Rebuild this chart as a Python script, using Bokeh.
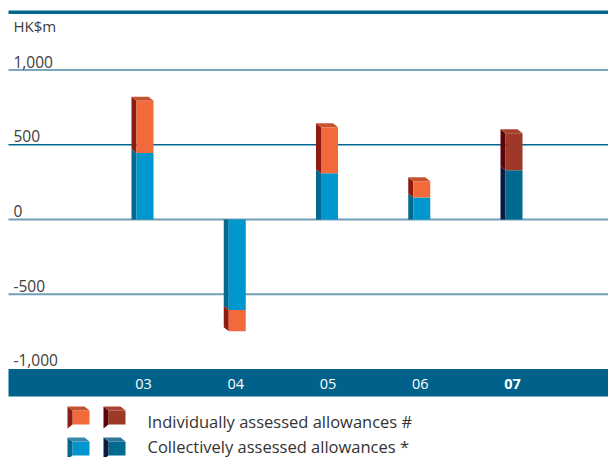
from bokeh.plotting import figure
from bokeh.models import Range1d, ColumnDataSource
from bokeh.core.properties import value
from bokeh.embed import file_html
from bokeh.resources import INLINE

# Loan impairment allowances charged, HK$m
years = ["03", "04", "05", "06", "07"]
collective = [445, -605, 310, 147, 330]
individual = [350, -143, 308, 109, 248]

tick_values = [1000, 500, 0, -500, -1000]
tick_labels = ["1,000", "500", "0", "-500", "-1,000"]

legend_labels = ["Individually assessed allowances #", "Collectively assessed allowances *"]

W, H = 608, 457
FONT = "Open Sans"

# screen geometry of the value scale
PX_PER_UNIT = 0.1494     # pixels per HK$m
ZERO_PX = 219            # pixel row of zero
FIRST_PX = 144.5         # pixel column of first bar
STEP_PX = 92.25          # pixels between bars


def dx(px):
    return px / STEP_PX


def dy(px):
    return px / PX_PER_UNIT


def xpos(px):
    return (px - FIRST_PX) / STEP_PX


def ypos(px):
    return (ZERO_PX - px) / PX_PER_UNIT


p = figure(width=W, height=H, output_backend="svg", toolbar_location=None,
           x_range=Range1d(xpos(0), xpos(W)), y_range=Range1d(ypos(H), ypos(0)),
           min_border=0)
p.xaxis.visible = False
p.yaxis.visible = False
p.grid.visible = False
p.outline_line_color = None
p.background_fill_color = "white"
p.border_fill_color = "white"

# top rule
p.quad(left=[xpos(8)], right=[xpos(W)], top=[ypos(10)], bottom=[ypos(13.5)],
       fill_color="#00648c", line_color=None)

# gridlines
grid_colors = ["#7aa6bf", "#00668f", "#6e9fb6", "#6e9fb6"]
grid_widths = [2, 1.5, 2, 2]
for v, c, lw in zip(tick_values[:-1], grid_colors, grid_widths):
    p.segment(x0=[xpos(8)], x1=[xpos(W)], y0=[v], y1=[v], line_color=c, line_width=lw)

# category band along the bottom
p.quad(left=[xpos(8)], right=[xpos(W)], top=[tick_values[-1]], bottom=[ypos(396)],
       fill_color="#00628a", line_color=None)

# value labels
p.text(x=[xpos(13)] * len(tick_values), y=[v + dy(2.5) for v in tick_values],
       text=tick_labels, text_font=value(FONT), text_font_size="15.5px",
       text_color="#3c3c3c", text_baseline="bottom", text_align="left")
p.text(x=[xpos(13)], y=[ypos(25)], text=["HK$m"], text_font=value(FONT),
       text_font_size="15px", text_color="#3c3c3c", text_baseline="middle",
       text_align="left")

# bar styling: (front, side, top) for ordinary years and the latest year
ind_style = ("#f26a3b", "#8e1a10", "#c4532f")
ind_style_last = ("#9e3827", "#5c0508", "#a8432f")
col_style = ("#0096ce", "#03688e", "#3a88a8")
col_style_last = ("#006a8f", "#0b1a42", "#2f7595")

FRONT_W = dx(17)
SIDE_W = dx(5)
LIFT = dy(4)

fronts = dict(left=[], right=[], top=[], bottom=[], color=[])
sides = dict(xs=[], ys=[], color=[])
tops = dict(xs=[], ys=[], color=[])


def add_box(xc, y0, y1, style, base_flat, cap):
    """Front face between y0 (inner end) and y1 (outer end), side face to the left."""
    x0 = xc - FRONT_W / 2
    x1 = xc + FRONT_W / 2
    fronts["left"].append(x0)
    fronts["right"].append(x1)
    fronts["top"].append(max(y0, y1))
    fronts["bottom"].append(min(y0, y1))
    fronts["color"].append(style[0])
    inner_lift = 0 if base_flat else LIFT
    sides["xs"].append([x0, x0, x0 - SIDE_W, x0 - SIDE_W])
    sides["ys"].append([y0, y1, y1 + LIFT, y0 + inner_lift])
    sides["color"].append(style[1])
    if cap:
        tops["xs"].append([x0, x1, x1 - SIDE_W, x0 - SIDE_W])
        tops["ys"].append([y1, y1, y1 + LIFT, y1 + LIFT])
        tops["color"].append(style[2])


last = len(years) - 1
for i, (c, v) in enumerate(zip(collective, individual)):
    cs = col_style_last if i == last else col_style
    ins = ind_style_last if i == last else ind_style
    add_box(i, 0, c, cs, True, False)
    add_box(i, c, c + v, ins, False, (c + v) > 0)

p.patches(xs="xs", ys="ys", fill_color="color", line_color=None,
          source=ColumnDataSource(sides))
p.patches(xs="xs", ys="ys", fill_color="color", line_color=None,
          source=ColumnDataSource(tops))
p.quad(left="left", right="right", top="top", bottom="bottom", fill_color="color",
       line_color=None, source=ColumnDataSource(fronts))

# category labels
xs_lab = [i - dx(1.5) for i in range(len(years))]
p.text(x=xs_lab[:-1], y=[ypos(383)] * (len(years) - 1), text=years[:-1],
       text_font=value(FONT), text_font_size="14.5px", text_color="white",
       text_align="center", text_baseline="middle")
p.text(x=xs_lab[-1:], y=[ypos(383)], text=years[-1:], text_font=value(FONT),
       text_font_size="14.5px", text_font_style="bold", text_color="white",
       text_align="center", text_baseline="middle")

# legend: cube swatches
leg = dict(xs=[], ys=[], color=[])
rows = [(406, ind_style, ind_style_last), (437, col_style, col_style_last)]
for top_px, s1, s2 in rows:
    for side_left, st in ((67, s1), (103, s2)):
        xl = xpos(side_left)
        xf = xpos(side_left + 5)
        xr = xpos(side_left + 22)
        yt = ypos(top_px)
        yf = ypos(top_px + 4)
        yb = ypos(top_px + 18)
        leg["xs"] += [[xf, xr, xr, xf], [xl, xf, xf, xl], [xl, xr - SIDE_W, xr, xf]]
        leg["ys"] += [[yf, yf, yb, yb], [yt, yf, yb, yb - LIFT], [yt, yt, yf, yf]]
        leg["color"] += [st[0], st[1], st[2]]
p.patches(xs="xs", ys="ys", fill_color="color", line_color=None,
          source=ColumnDataSource(leg))

p.text(x=[xpos(147)] * 2, y=[ypos(421), ypos(446)], text=legend_labels,
       text_font=value(FONT), text_font_size="16.5px", text_color="#333333",
       text_align="left", text_baseline="alphabetic")

open("out.html", "w").write(file_html(p, INLINE))
